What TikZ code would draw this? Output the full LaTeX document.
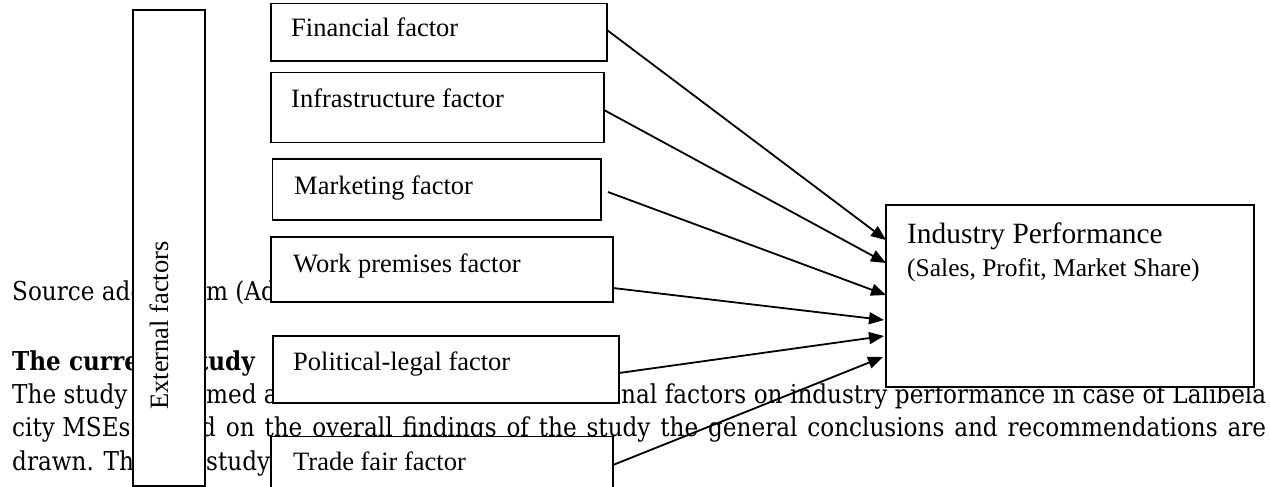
\documentclass[tikz,border=0pt]{standalone}
\usepackage{fontspec}
\setmainfont{Liberation Serif}
\newfontfamily\parafont[FakeStretch=0.89]{DejaVu Serif}
\usetikzlibrary{arrows.meta,calc}
\begin{document}
\begin{tikzpicture}[x=1pt,y=-1pt,
  box/.style={draw,line width=1.5pt,fill=white,inner sep=0pt,outer sep=0pt},
  lbl/.style={anchor=base west,inner sep=0pt,font=\fontsize{26.5}{30}\selectfont},
  para/.style={anchor=base west,inner sep=0pt,font=\parafont\fontsize{26}{32}\selectfont},
  parab/.style={anchor=base west,inner sep=0pt,font=\parafont\fontsize{26}{32}\selectfont\bfseries},
  link/.style={line width=1.8pt,-{Triangle[length=15pt,width=12pt]}}]
\useasboundingbox (0,0) rectangle (1270,487);
\fill[white] (0,0) rectangle (1270,487);
% background page text
\node[para] (s1) at (12,300) {Source adopted};
\node[para] (s2) at (206,300) {m (Ade};
\node[parab] (h1) at (12,370) {The current};
\node[parab,anchor=base east] (h2) at (255,370) {study};
\node[para] (c1) at (12,403) {The study};
\node[para] (c2) at (206,403) {med at};
\node[para] (c3) at (621,403) {\makebox[645pt][s]{nal factors on industry performance in case of Lalibela}};
\node[para] (d1) at (12,436) {city MSEs.};
\node[para] (d2) at (201,436) {\makebox[1065pt][s]{d on the overall findings of the study the general conclusions and recommendations are}};
\node[para] (e1) at (12,470) {drawn. The};
\node[para] (e2) at (206,470) {study};
% boxes
\node[box,minimum width=72pt,minimum height=476pt] (ext) at (169,248) {};
\node[box,minimum width=336pt,minimum height=57.5pt] (fin) at (439,32.25) {};
\node[box,minimum width=333pt,minimum height=70pt] (inf) at (437.5,107.7) {};
\node[box,minimum width=328.3pt,minimum height=61pt] (mkt) at (436.85,189.5) {};
\node[box,minimum width=342pt,minimum height=65pt] (wp) at (442,269.5) {};
\node[box,minimum width=346pt,minimum height=67pt] (pol) at (446,369.5) {};
\node[box,minimum width=342pt,minimum height=63.5pt] (tf) at (442,468.25) {};
\node[box,minimum width=368pt,minimum height=182pt] (ind) at (1070,296) {};
% labels
\node[lbl,rotate=90] (extT) at (168,410) {External factors};
\node[lbl] (finT) at (291,37) {Financial factor};
\node[lbl] (infT) at (291,107) {Infrastructure factor};
\node[lbl] (mktT) at (294,194) {Marketing factor};
\node[lbl] (wpT) at (293,272) {Work premises factor};
\node[lbl] (polT) at (293,370) {Political-legal factor};
\node[lbl] (tfT) at (293,470) {Trade fair factor};
\node[lbl,font=\fontsize{29.4}{34}\selectfont] (indT) at (907,243) {Industry Performance};
\node[lbl,font=\fontsize{25.5}{30}\selectfont] (indS) at (907,276) {(Sales, Profit, Market Share)};
% connectors
\draw[link] ([yshift=2.25pt]fin.east) -- ([yshift=56pt]ind.west);
\draw[link] ([yshift=-2.3pt]inf.east) -- ([yshift=33pt]ind.west);
\draw[link] ([xshift=7pt,yshift=-2.5pt]mkt.east) -- ([yshift=1pt]ind.west);
\draw[link] ([yshift=-18.5pt]wp.east) -- ([xshift=-2pt,yshift=-24pt]ind.west);
\draw[link] ([yshift=-3.5pt]pol.east) -- ([xshift=-2pt,yshift=-40pt]ind.west);
\draw[link] ([yshift=3.25pt]tf.east) -- ([xshift=-3pt,yshift=-61pt]ind.west);
\end{tikzpicture}
\end{document}
